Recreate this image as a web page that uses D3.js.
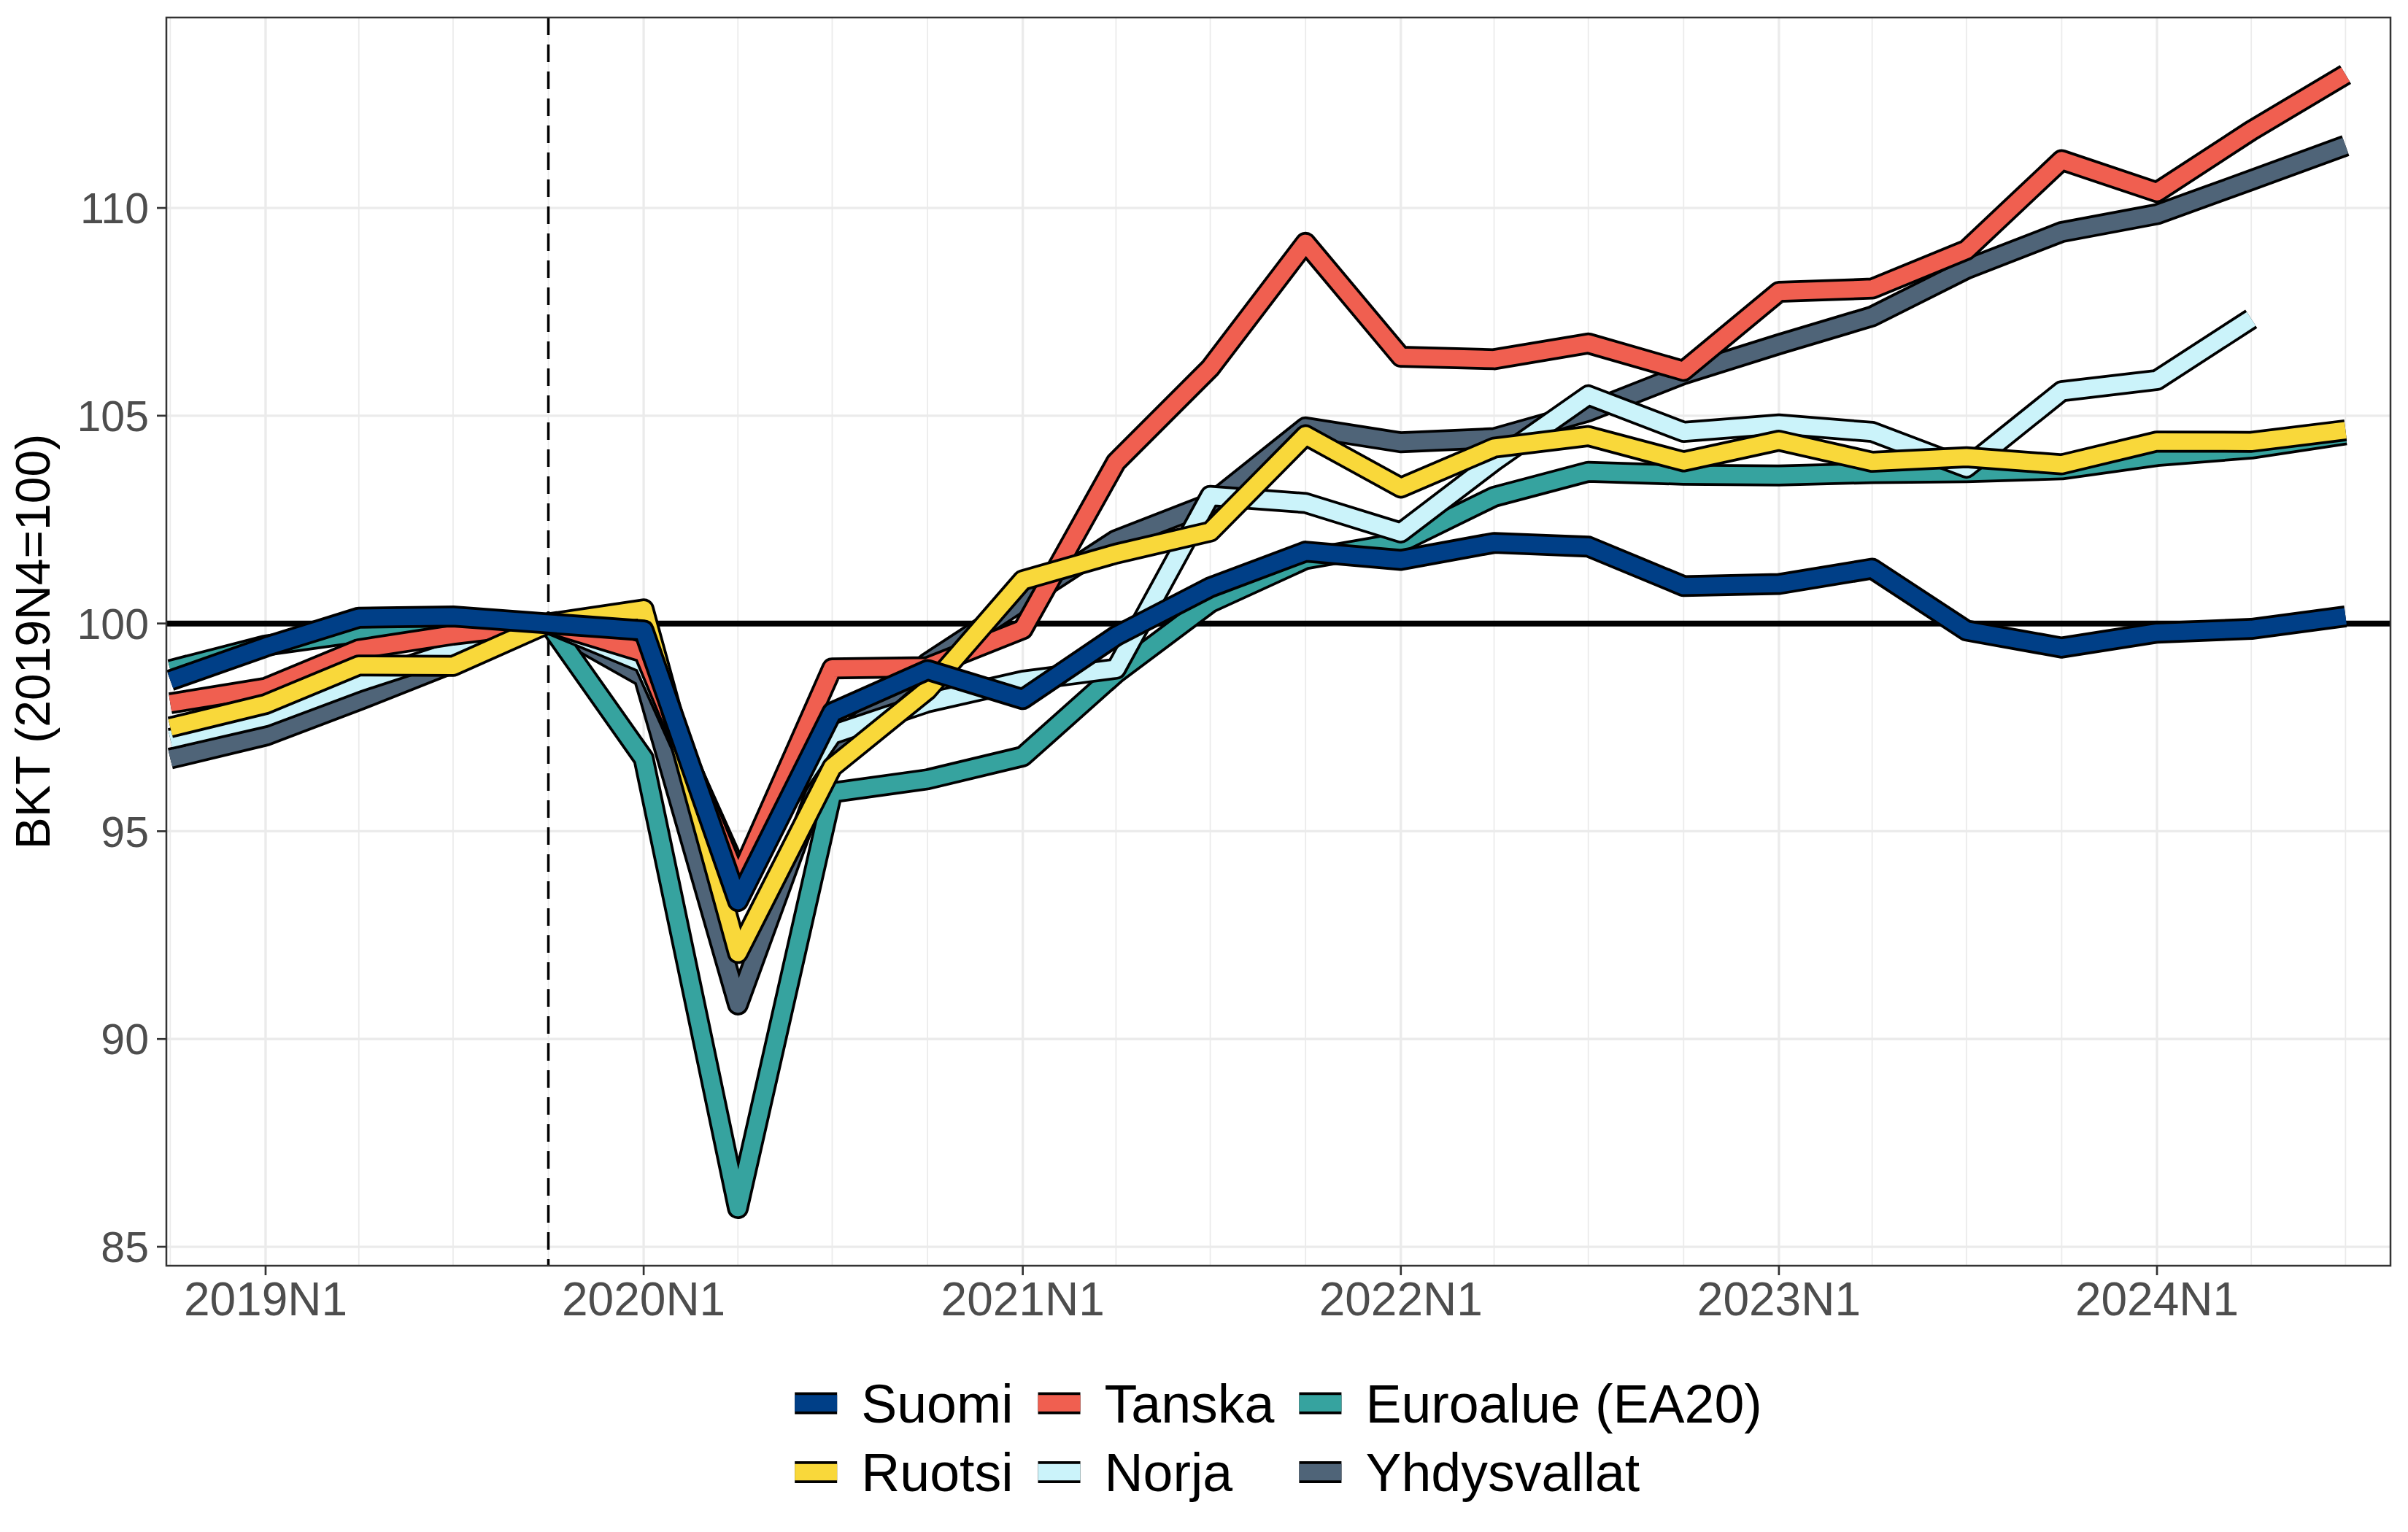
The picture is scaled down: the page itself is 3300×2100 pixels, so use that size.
<!DOCTYPE html>
<html><head><meta charset="utf-8">
<script src="https://cdn.jsdelivr.net/npm/d3@7/dist/d3.min.js"></script>
<style>body{margin:0;background:#fff}</style>
</head><body>
<svg id="chart" width="3300" height="2100"></svg>
<script>
// ---- data ----
const quarters = ["2018N4","2019N1","2019N2","2019N3","2019N4","2020N1","2020N2","2020N3","2020N4",
  "2021N1","2021N2","2021N3","2021N4","2022N1","2022N2","2022N3","2022N4",
  "2023N1","2023N2","2023N3","2023N4","2024N1","2024N2","2024N3"];
const suomi =       [98.63,99.44,100.14,100.17,100,99.83,93.32,97.86,98.88,98.18,99.70,100.87,101.73,101.53,101.94,101.85,100.90,100.95,101.32,99.83,99.42,99.78,99.87,100.17];
const tanska =      [98.08,98.45,99.38,99.73,100,99.30,93.80,98.92,98.95,99.86,103.88,106.15,109.16,106.42,106.36,106.74,106.08,107.98,108.06,108.99,111.15,110.38,111.86,113.21];
const euroalue =    [98.88,99.47,99.78,99.96,100,96.75,85.93,95.93,96.25,96.80,98.80,100.50,101.55,101.95,103.05,103.65,103.58,103.56,103.62,103.64,103.71,104.03,104.21,104.55];
const ruotsi =      [97.50,98.06,98.99,98.98,100,100.34,92.07,96.54,98.40,101.04,101.68,102.21,104.53,103.27,104.23,104.51,103.90,104.40,103.89,104.00,103.83,104.38,104.37,104.65];
const norja =       [97.22,97.75,98.59,99.33,100,99.05,94.00,97.33,98.10,98.62,98.91,103.07,102.90,102.19,103.90,105.49,104.61,104.79,104.61,103.75,105.59,105.86,107.33,null];
const yhdysvallat = [96.75,97.30,98.15,99.05,100,98.71,90.83,97.05,99.05,100.55,102.01,102.89,104.72,104.36,104.46,105.10,106.00,106.72,107.39,108.53,109.42,109.85,110.67,111.50];

const seriesNames  = ["Suomi","Tanska","Euroalue (EA20)","Ruotsi","Norja","Yhdysvallat"];
const seriesColors = ["#003F87","#F05F50","#36A39F","#F9D83A","#CBF3FA","#4F6478"];
const seriesValues = [suomi, tanska, euroalue, ruotsi, norja, yhdysvallat];
const drawOrder = ["Yhdysvallat","Euroalue (EA20)","Norja","Tanska","Ruotsi","Suomi"];

const yTicks = [85, 90, 95, 100, 105, 110];
const xTickLabels = ["2019N1","2020N1","2021N1","2022N1","2023N1","2024N1"];
const baseQuarter = "2019N4";
const yTitle = "BKT (2019N4=100)";

// ---- helpers ----
const qDate = s => new Date(Date.UTC(+s.slice(0,4), (+s.slice(5) - 1) * 3, 1));

// ---- layout ----
const W = 3300, H = 2100;
const P = {left: 228, right: 3276, top: 24, bottom: 1735};
const FONT = "'Liberation Sans', Arial, Helvetica, sans-serif";

const svg = d3.select("#chart");
svg.append("rect").attr("width", W).attr("height", H).attr("fill", "#fff");

const x = d3.scaleUtc()
  .domain([new Date(Date.UTC(2018, 8, 27, 5)), new Date(Date.UTC(2024, 7, 13, 10))])
  .range([P.left, P.right]);
const y = d3.scaleLinear()
  .domain([84.544, 114.583])
  .range([P.bottom, P.top]);

// grid
const grid = svg.append("g");
const minorDates = d3.utcMonth.every(3).range(x.domain()[0], x.domain()[1]).filter(d => d.getUTCMonth() !== 0);
grid.selectAll("line.minx").data(minorDates).join("line")
  .attr("x1", d => x(d)).attr("x2", d => x(d)).attr("y1", P.top).attr("y2", P.bottom)
  .attr("stroke", "#EBEBEB").attr("stroke-width", 1.8);
const majorDates = xTickLabels.map(qDate);
grid.selectAll("line.majx").data(majorDates).join("line")
  .attr("x1", d => x(d)).attr("x2", d => x(d)).attr("y1", P.top).attr("y2", P.bottom)
  .attr("stroke", "#EBEBEB").attr("stroke-width", 3.3);
grid.selectAll("line.majy").data(yTicks).join("line")
  .attr("x1", P.left).attr("x2", P.right).attr("y1", d => y(d)).attr("y2", d => y(d))
  .attr("stroke", "#EBEBEB").attr("stroke-width", 3.3);

// clip
svg.append("clipPath").attr("id", "clip").append("rect")
  .attr("x", P.left).attr("y", P.top).attr("width", P.right - P.left).attr("height", P.bottom - P.top);
const plot = svg.append("g").attr("clip-path", "url(#clip)");

// reference lines
plot.append("line")
  .attr("x1", x(qDate(baseQuarter))).attr("x2", x(qDate(baseQuarter)))
  .attr("y1", P.top).attr("y2", P.bottom)
  .attr("stroke", "#000").attr("stroke-width", 3.5).attr("stroke-dasharray", "24,13");
plot.append("line")
  .attr("x1", P.left).attr("x2", P.right).attr("y1", y(100)).attr("y2", y(100))
  .attr("stroke", "#000").attr("stroke-width", 8);

// series
const OUTER = 30, INNER = 22.5;
const line = d3.line()
  .defined(d => d.v != null)
  .x(d => x(d.date)).y(d => y(d.v));
drawOrder.forEach(name => {
  const i = seriesNames.indexOf(name);
  const pts = quarters.map((q, k) => ({date: qDate(q), v: seriesValues[i][k]}));
  const g = plot.append("g");
  g.append("path").datum(pts).attr("d", line).attr("fill", "none")
    .attr("stroke", "#000").attr("stroke-width", OUTER)
    .attr("stroke-linejoin", "round").attr("stroke-linecap", "butt");
  g.append("path").datum(pts).attr("d", line).attr("fill", "none")
    .attr("stroke", seriesColors[i]).attr("stroke-width", INNER)
    .attr("stroke-linejoin", "round").attr("stroke-linecap", "butt");
});

// panel border
svg.append("rect").attr("x", P.left).attr("y", P.top)
  .attr("width", P.right - P.left).attr("height", P.bottom - P.top)
  .attr("fill", "none").attr("stroke", "#333333").attr("stroke-width", 2.5);

// y axis
const yAx = svg.append("g");
yAx.selectAll("line").data(yTicks).join("line")
  .attr("x1", P.left - 13).attr("x2", P.left).attr("y1", d => y(d)).attr("y2", d => y(d))
  .attr("stroke", "#333333").attr("stroke-width", 2.7);
yAx.selectAll("text").data(yTicks).join("text")
  .attr("x", 204).attr("y", d => y(d)).attr("dy", "0.36em")
  .attr("text-anchor", "end").attr("font-family", FONT).attr("font-size", 59)
  .attr("fill", "#4D4D4D").text(d => d);

// x axis
const xAx = svg.append("g");
xAx.selectAll("line").data(majorDates).join("line")
  .attr("x1", d => x(d)).attr("x2", d => x(d)).attr("y1", P.bottom).attr("y2", P.bottom + 13)
  .attr("stroke", "#333333").attr("stroke-width", 2.7);
xAx.selectAll("text").data(xTickLabels).join("text")
  .attr("x", d => x(qDate(d))).attr("y", 1803)
  .attr("text-anchor", "middle").attr("font-family", FONT).attr("font-size", 64)
  .attr("fill", "#4D4D4D").text(d => d);

// y title
svg.append("text")
  .attr("transform", `translate(68,${(P.top + P.bottom) / 2}) rotate(-90)`)
  .attr("text-anchor", "middle").attr("font-family", FONT).attr("font-size", 66)
  .attr("fill", "#000").text(yTitle);

// legend (2 rows, 3 columns, by row)
const LEG_FS = 73.5, KEY_W = 58, KEY_GAP = 33, COL_GAP = 34;
const rowY = [1923.5, 2018];
const leg = svg.append("g");
const measure = leg.append("text").attr("font-family", FONT).attr("font-size", LEG_FS);
const widths = seriesNames.map(n => { measure.text(n); return measure.node().getComputedTextLength(); });
measure.remove();
const nCol = 3;
const colW = d3.range(nCol).map(c => d3.max(seriesNames.map((n, i) => i % nCol === c ? widths[i] : 0)));
const colX = [];
let acc = 0;
colW.forEach((w, c) => { colX.push(acc); acc += KEY_W + KEY_GAP + w + (c < nCol - 1 ? COL_GAP : 0); });
const legLeft = (P.left + P.right) / 2 - acc / 2;
seriesNames.forEach((n, i) => {
  const c = i % nCol, r = Math.floor(i / nCol);
  const kx = legLeft + colX[c], ky = rowY[r];
  leg.append("line").attr("x1", kx).attr("x2", kx + KEY_W).attr("y1", ky).attr("y2", ky)
    .attr("stroke", "#000").attr("stroke-width", OUTER);
  leg.append("line").attr("x1", kx).attr("x2", kx + KEY_W).attr("y1", ky).attr("y2", ky)
    .attr("stroke", seriesColors[i]).attr("stroke-width", INNER);
  leg.append("text").attr("x", kx + KEY_W + KEY_GAP).attr("y", ky).attr("dy", "0.36em")
    .attr("font-family", FONT).attr("font-size", LEG_FS).attr("fill", "#000").text(n);
});
</script>
</body></html>
